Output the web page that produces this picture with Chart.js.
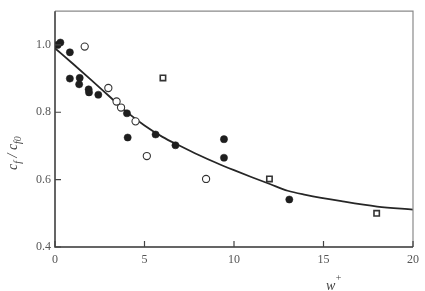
<!DOCTYPE html>
<html>
<head>
<meta charset="utf-8">
<script src="https://cdn.jsdelivr.net/npm/chart.js@4/dist/chart.umd.min.js"></script>
<style>
  html, body { margin: 0; padding: 0; background: #fff; }
  #wrap { width: 425px; height: 291px; position: relative; }
</style>
</head>
<body>
<div id="wrap"><canvas id="c" width="425" height="291"></canvas></div>
<script>
// ---- data ----
const curveX = [0, 1, 2, 3, 4, 5, 6, 7, 8, 9, 10, 11, 12, 13, 14, 16, 18, 20];
const curveY = [0.99, 0.944, 0.897, 0.849, 0.801, 0.761, 0.727, 0.700, 0.674, 0.650, 0.628, 0.607, 0.587, 0.567, 0.555, 0.536, 0.520, 0.511];

const filledX = [0.15, 0.3, 0.83, 0.83, 1.38, 1.35, 1.88, 1.9, 2.42, 4.02, 4.06, 5.62, 6.73, 9.44, 9.44, 13.09];
const filledY = [1.0, 1.007, 0.978, 0.90, 0.902, 0.883, 0.868, 0.859, 0.852, 0.797, 0.725, 0.734, 0.702, 0.72, 0.665, 0.541];

const openX = [1.66, 2.98, 3.44, 3.69, 4.5, 5.13, 8.44];
const openY = [0.995, 0.872, 0.832, 0.814, 0.773, 0.670, 0.602];

const squareX = [6.03, 11.98, 17.97];
const squareY = [0.902, 0.602, 0.50];

const xTicks = [0, 5, 10, 15, 20];
const yTicks = [0.4, 0.6, 0.8, 1.0];

const toPts = (xs, ys) => xs.map((x, i) => ({ x: x, y: ys[i] }));

const INK = '#1e1e1e';
const LABEL = '#555';

const framePlugin = {
  id: 'frame',
  afterDatasetsDraw(chart) {
    const { ctx, chartArea: a, scales } = chart;
    ctx.save();
    // light top/right border
    ctx.strokeStyle = '#8a8a8a';
    ctx.lineWidth = 1.2;
    ctx.beginPath();
    ctx.moveTo(a.left, a.top);
    ctx.lineTo(a.right, a.top);
    ctx.lineTo(a.right, a.bottom);
    ctx.stroke();
    // dark left/bottom axes
    ctx.strokeStyle = '#333';
    ctx.lineWidth = 1.5;
    ctx.beginPath();
    ctx.moveTo(a.left, a.top);
    ctx.lineTo(a.left, a.bottom);
    ctx.lineTo(a.right, a.bottom);
    ctx.stroke();
    // inward ticks
    ctx.lineWidth = 1.2;
    ctx.strokeStyle = '#444';
    ctx.beginPath();
    yTicks.forEach(v => {
      const y = scales.y.getPixelForValue(v);
      ctx.moveTo(a.left, y);
      ctx.lineTo(a.left + 6, y);
    });
    xTicks.forEach(v => {
      const x = scales.x.getPixelForValue(v);
      ctx.moveTo(x, a.bottom);
      ctx.lineTo(x, a.bottom - 6);
    });
    ctx.stroke();

    // y-axis title: c_f / c_f0 (rotated)
    ctx.fillStyle = '#444';
    ctx.translate(17, 142);
    ctx.rotate(-Math.PI / 2);
    ctx.textBaseline = 'alphabetic';
    ctx.textAlign = 'left';
    const big = 'italic 14px "Liberation Serif", "DejaVu Serif", serif';
    const small = 'italic 10px "Liberation Serif", "DejaVu Serif", serif';
    let x = -28;
    const seg = (t, f, dy) => { ctx.font = f; ctx.fillText(t, x, dy); x += ctx.measureText(t).width; };
    seg('c', big, 0);
    seg('f', small, 4);
    seg(' / ', big, 0);
    seg('c', big, 0);
    seg('f0', small, 4);
    ctx.restore();

    // x-axis title: w+
    ctx.save();
    ctx.fillStyle = '#444';
    ctx.textBaseline = 'alphabetic';
    ctx.font = 'italic 14px "Liberation Serif", "DejaVu Serif", serif';
    ctx.fillText('w', 326, 290);
    const ww = ctx.measureText('w').width;
    ctx.font = '10px "Liberation Serif", "DejaVu Serif", serif';
    ctx.fillText('+', 326 + ww + 0.5, 281);
    ctx.restore();
  }
};

new Chart(document.getElementById('c'), {
  type: 'scatter',
  data: {
    datasets: [
      {
        label: 'curve',
        data: toPts(curveX, curveY),
        showLine: true,
        borderColor: '#262626',
        borderWidth: 1.8,
        pointRadius: 0,
        cubicInterpolationMode: 'monotone',
        order: 4
      },
      {
        label: 'filled',
        data: toPts(filledX, filledY),
        pointStyle: 'circle',
        pointRadius: 3.6,
        backgroundColor: INK,
        borderColor: INK,
        borderWidth: 0.5,
        order: 1
      },
      {
        label: 'open',
        data: toPts(openX, openY),
        pointStyle: 'circle',
        pointRadius: 3.6,
        backgroundColor: '#fff',
        borderColor: '#333',
        borderWidth: 1.1,
        order: 2
      },
      {
        label: 'square',
        data: toPts(squareX, squareY),
        pointStyle: 'rect',
        pointRadius: 3.8,
        backgroundColor: '#fff',
        borderColor: '#333',
        borderWidth: 1.6,
        order: 3
      }
    ]
  },
  options: {
    responsive: false,
    animation: false,
    devicePixelRatio: 1,
    layout: { padding: { left: 0, right: 8, top: 6, bottom: 0 } },
    plugins: { legend: { display: false }, tooltip: { enabled: false } },
    scales: {
      x: {
        type: 'linear',
        min: 0,
        max: 20,
        afterBuildTicks: s => { s.ticks = xTicks.map(v => ({ value: v })); },
        afterFit: s => { s.height = 44; },
        grid: { display: false, drawTicks: false },
        border: { display: false },
        ticks: {
          padding: 6,
          color: LABEL,
          font: { family: '"Liberation Serif", "DejaVu Serif", serif', size: 12 },
          callback: v => String(v)
        }
      },
      y: {
        type: 'linear',
        min: 0.4,
        max: 1.1,
        afterBuildTicks: s => { s.ticks = yTicks.map(v => ({ value: v })); },
        afterFit: s => { s.width = 55; },
        grid: { display: false, drawTicks: false },
        border: { display: false },
        ticks: {
          padding: 4,
          color: LABEL,
          font: { family: '"Liberation Serif", "DejaVu Serif", serif', size: 12 },
          callback: v => v.toFixed(1)
        }
      }
    }
  },
  plugins: [framePlugin]
});
</script>
</body>
</html>
